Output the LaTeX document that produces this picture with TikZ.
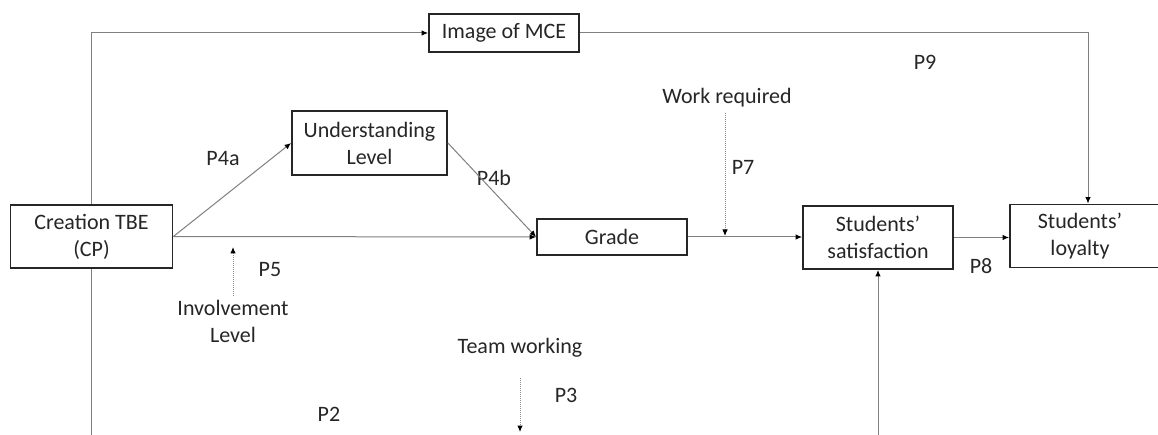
\documentclass[tikz,border=0pt]{standalone}
\usepackage{fontspec}
\setmainfont{Carlito}
\usetikzlibrary{arrows.meta}
\begin{document}
\begin{tikzpicture}[x=1pt,y=-1pt,
  box/.style={draw=black!85,line width=1.8pt,fill=white,inner sep=0pt,align=center,
    font=\fontsize{22}{27}\selectfont,text=black!85},
  txt/.style={inner sep=0pt,align=center,font=\fontsize{22}{27}\selectfont,text=black!85},
  conn/.style={draw=black!50,line width=1pt,-{Latex[length=6.5pt,width=5.5pt,black]}},
  plain/.style={draw=black!50,line width=1pt},
  dotarrow/.style={draw=black!45,line width=1pt,densely dotted,-{Latex[length=6.5pt,width=5.5pt,black]}}]
\useasboundingbox (0,0) rectangle (1158,435);
\fill[white] (0,0) rectangle (1158,435);
% boxes
\node[box,minimum width=162,minimum height=63] (crea) at (91.5,236.5) {Creation TBE\\(CP)};
\node[box,minimum width=150,minimum height=38] (img) at (504,33) {Image of MCE};
\node[box,minimum width=155,minimum height=64] (und) at (369.5,143) {Understanding\\Level};
\node[box,minimum width=150,minimum height=36] (grade) at (612,237) {Grade};
\node[box,minimum width=150,minimum height=63] (sat) at (878,237.5) {Students’\\satisfaction};
\node[box,minimum width=156,minimum height=63] (loy) at (1088,236) {};
\node[txt] (loyt) at (1080,236) {Students’\\loyalty};
% free texts
\node[txt] (work) at (727,98) {Work required};
\node[txt] (inv) at (233,321) {Involvement\\Level};
\node[txt] (team) at (520,348) {Team working};
% labels
\node[txt] (p4a) at (223,159) {P4a};
\node[txt] (p4b) at (494,178) {P4b};
\node[txt] (p5) at (270,270) {P5};
\node[txt] (p7) at (743,167) {P7};
\node[txt] (p9) at (925,62) {P9};
\node[txt] (p8) at (981,266) {P8};
\node[txt] (p3) at (566,395) {P3};
\node[txt] (p2) at (329,414) {P2};
% coordinates
\coordinate (cbot) at (91.5,440);
\coordinate (sbot) at (878,440);
\coordinate (wtop) at (725,113);
\coordinate (wend) at (725,236);
\coordinate (itop) at (233,247);
\coordinate (ibot) at (233,296);
\coordinate (ttop) at (520,378);
\coordinate (tend) at (520,432);
% connectors
\draw[conn] (crea.north) |- (img.west);
\draw[conn] (img.east) -| (loy.north);
\draw[plain] (crea.south) -- (cbot);
\draw[conn] (crea.east) -- (und.west);
\draw[conn] (und.east) -- (grade.west);
\draw[conn] (crea.east) -- (grade.west);
\draw[conn] (grade.east) -- (grade.east -| sat.west);
\draw[conn] (sat.east) -- (sat.east -| loy.west);
\draw[conn] (sbot) -- (sat.south);
\draw[dotarrow] (wtop) -- (wend);
\draw[dotarrow] (ibot) -- (itop);
\draw[dotarrow] (ttop) -- (tend);
\end{tikzpicture}
\end{document}
